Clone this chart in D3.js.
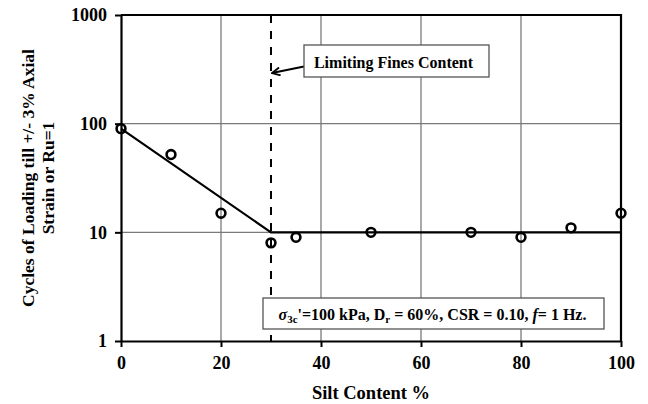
<!DOCTYPE html>
<html>
<head>
<meta charset="utf-8">
<script src="https://cdn.jsdelivr.net/npm/d3@7/dist/d3.min.js"></script>
<style>
  html, body { margin: 0; padding: 0; background: #fff; }
  svg { display: block; }
  text { font-family: "Liberation Serif", "Times New Roman", serif; font-weight: bold; fill: #000; }
</style>
</head>
<body>
<svg id="chart" width="648" height="404"></svg>
<script>
// Measured cycles to +/-3% axial strain (or Ru = 1) versus silt content
const siltContent = [0, 10, 20, 30, 35, 50, 70, 80, 90, 100];
const cycles      = [90, 52, 15, 8, 9, 10, 10, 9, 11, 15];

// Bilinear trend: falling to the limiting fines content, then flat
const trendSilt   = [0, 30, 100];
const trendCycles = [90, 10, 10];

const limitingFines = 30;

const xTicks = [0, 20, 40, 60, 80, 100];
const yTicks = [1, 10, 100, 1000];
const xGrid  = [20, 40, 60, 80];
const yGrid  = [10, 100];

const W = 648, H = 404;
const m = { left: 121, right: 27, top: 15, bottom: 63 };
const svg = d3.select("#chart");

const x = d3.scaleLinear().domain([0, 100]).range([m.left, W - m.right]);
const y = d3.scaleLog().domain([1, 1000]).range([H - m.bottom, m.top]);

// grid
const grid = svg.append("g").attr("stroke", "#7a7a7a").attr("stroke-width", 1.3);
grid.selectAll(".gx").data(xGrid).join("line")
  .attr("x1", d => x(d)).attr("x2", d => x(d))
  .attr("y1", y(1)).attr("y2", y(1000));
grid.selectAll(".gy").data(yGrid).join("line")
  .attr("x1", x(0)).attr("x2", x(100))
  .attr("y1", d => y(d)).attr("y2", d => y(d));

// frame (top and right)
svg.append("path")
  .attr("d", `M${x(0)},${y(1000)}H${x(100)}V${y(1)}`)
  .attr("fill", "none").attr("stroke", "#000").attr("stroke-width", 2.2);

// limiting fines content marker
svg.append("line")
  .attr("x1", x(limitingFines)).attr("x2", x(limitingFines))
  .attr("y1", y(1000)).attr("y2", y(1))
  .attr("stroke", "#000").attr("stroke-width", 2)
  .attr("stroke-dasharray", "8,8");

// axes
const xAxis = svg.append("g")
  .attr("transform", `translate(0,${y(1)})`)
  .call(d3.axisBottom(x).tickValues(xTicks).tickSize(6).tickSizeOuter(0).tickPadding(9));
const yAxis = svg.append("g")
  .attr("transform", `translate(${x(0)},0)`)
  .call(d3.axisLeft(y).tickValues(yTicks).tickFormat(d3.format("d")).tickSize(6).tickSizeOuter(0).tickPadding(8));
[xAxis, yAxis].forEach(g => {
  g.select(".domain").attr("stroke", "#000").attr("stroke-width", 2.2);
  g.selectAll(".tick line").attr("stroke", "#000").attr("stroke-width", 2);
  g.selectAll(".tick text")
    .attr("font-family", "Liberation Serif, Times New Roman, serif")
    .attr("font-weight", "bold").attr("font-size", 18).attr("fill", "#000");
});

// trend line
const line = d3.line().x((d, i) => x(trendSilt[i])).y(d => y(d));
svg.append("path")
  .attr("d", line(trendCycles))
  .attr("fill", "none").attr("stroke", "#000").attr("stroke-width", 2.2);

// data points
svg.append("g").selectAll("circle").data(cycles).join("circle")
  .attr("cx", (d, i) => x(siltContent[i])).attr("cy", d => y(d))
  .attr("r", 4.4).attr("fill", "none").attr("stroke", "#000").attr("stroke-width", 2.6);

// axis titles
svg.append("text")
  .attr("x", x(50)).attr("y", 393).attr("text-anchor", "middle")
  .attr("dominant-baseline", "central").attr("font-size", 18.5)
  .text("Silt Content %");
const yTitle = svg.append("text")
  .attr("transform", `translate(0,${(y(1) + y(1000)) / 2}) rotate(-90)`)
  .attr("text-anchor", "middle").attr("font-size", 17.5);
yTitle.append("tspan").attr("x", 0).attr("y", 28).attr("dominant-baseline", "central")
  .text("Cycles of Loading till +/- 3% Axial");
yTitle.append("tspan").attr("x", 0).attr("y", 48).attr("dominant-baseline", "central")
  .text("Strain or Ru=1");

// "Limiting Fines Content" callout
const defs = svg.append("defs");
defs.append("marker").attr("id", "arrow")
  .attr("viewBox", "0 0 10 10").attr("refX", 9).attr("refY", 5)
  .attr("markerWidth", 10).attr("markerHeight", 10).attr("markerUnits", "userSpaceOnUse")
  .attr("orient", "auto")
  .append("path").attr("d", "M1,1L9,5L1,9")
  .attr("fill", "none").attr("stroke", "#000").attr("stroke-width", 1.8);

svg.append("line")
  .attr("x1", 304).attr("y1", 66.5).attr("x2", x(limitingFines) + 1).attr("y2", 73)
  .attr("stroke", "#000").attr("stroke-width", 2).attr("marker-end", "url(#arrow)");
svg.append("rect")
  .attr("x", 304).attr("y", 45).attr("width", 185).attr("height", 32)
  .attr("fill", "#fff").attr("stroke", "#555").attr("stroke-width", 1.3);
svg.append("text")
  .attr("x", 393.5).attr("y", 62).attr("text-anchor", "middle")
  .attr("dominant-baseline", "central").attr("font-size", 16)
  .text("Limiting Fines Content");

// test conditions box
svg.append("rect")
  .attr("x", 263).attr("y", 298).attr("width", 341).attr("height", 31)
  .attr("fill", "#fff").attr("stroke", "#555").attr("stroke-width", 1.3);
const cond = svg.append("text")
  .attr("x", 432.5).attr("y", 319.5).attr("text-anchor", "middle").attr("font-size", 16);
cond.append("tspan").attr("font-style", "italic").text("σ");
cond.append("tspan").attr("font-size", 11).attr("dy", 3).text("3c");
cond.append("tspan").attr("dy", -3).text("'=100 kPa, D");
cond.append("tspan").attr("font-size", 11).attr("dy", 3).text("r");
cond.append("tspan").attr("dy", -3).text(" = 60%, CSR = 0.10, ");
cond.append("tspan").attr("font-style", "italic").text("f");
cond.append("tspan").text("= 1 Hz.");
</script>
</body>
</html>
